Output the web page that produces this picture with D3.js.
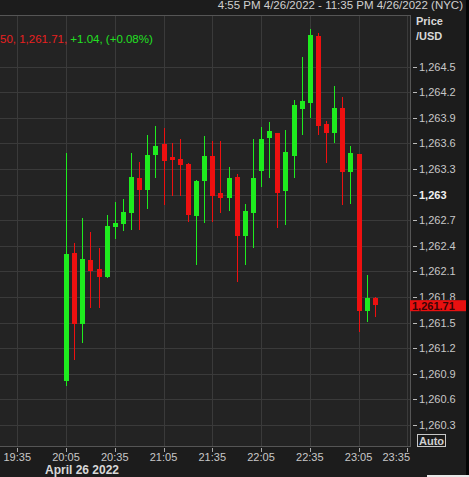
<!DOCTYPE html>
<html>
<head>
<meta charset="utf-8">
<script src="https://cdn.jsdelivr.net/npm/d3@7"></script>
<style>
  html, body { margin: 0; padding: 0; background: #1c1c1c; overflow: hidden; }
  svg { display: block; font-family: "Liberation Sans", Arial, sans-serif; }
</style>
</head>
<body>
<div class="chart"></div>
<script>
'use strict'

// 5 minute candles, April 26 2022 (NYC)
const times = ['20:05', '20:10', '20:15', '20:20', '20:25', '20:30', '20:35', '20:40', '20:45', '20:50',
  '20:55', '21:00', '21:05', '21:10', '21:15', '21:20', '21:25', '21:30', '21:35', '21:40',
  '21:45', '21:50', '21:55', '22:00', '22:05', '22:10', '22:15', '22:20', '22:25', '22:30',
  '22:35', '22:40', '22:45', '22:50', '22:55', '23:00', '23:05', '23:10', '23:15']
const opens = [1260.81, 1262.32, 1261.48, 1262.23, 1262.13, 1262.04, 1262.62, 1262.66, 1262.78, 1263.20,
  1263.06, 1263.46, 1263.59, 1263.44, 1263.42, 1263.36, 1262.75, 1263.16, 1263.45, 1263.02,
  1262.96, 1263.21, 1262.51, 1262.78, 1263.28, 1263.66, 1263.72, 1263.04, 1263.45, 1264.00,
  1264.08, 1264.86, 1263.83, 1263.72, 1264.02, 1263.26, 1263.48, 1261.64, 1261.79]
const highs = [1263.49, 1262.43, 1262.73, 1262.56, 1262.37, 1262.76, 1262.91, 1262.95, 1263.49, 1263.38,
  1263.70, 1263.81, 1263.78, 1263.61, 1263.65, 1263.37, 1263.17, 1263.69, 1263.63, 1263.63,
  1263.32, 1263.24, 1262.89, 1263.65, 1263.79, 1263.85, 1263.72, 1263.76, 1264.11, 1264.61,
  1264.94, 1264.90, 1263.86, 1264.27, 1264.15, 1263.57, 1263.48, 1262.06, 1261.80]
const lows = [1260.76, 1261.06, 1261.26, 1261.67, 1261.67, 1262.02, 1262.48, 1262.57, 1262.59, 1262.58,
  1262.83, 1263.19, 1262.88, 1262.98, 1262.98, 1262.68, 1262.18, 1262.67, 1262.68, 1262.79,
  1262.81, 1261.98, 1262.18, 1262.38, 1263.09, 1263.19, 1262.61, 1262.65, 1263.19, 1263.70,
  1263.90, 1263.70, 1263.37, 1263.60, 1262.88, 1262.89, 1261.39, 1261.51, 1261.57]
const closes = [1262.30, 1261.48, 1262.24, 1262.11, 1262.04, 1262.63, 1262.67, 1262.80, 1263.21, 1263.06,
  1263.47, 1263.57, 1263.39, 1263.41, 1263.35, 1262.76, 1263.16, 1263.45, 1262.99, 1262.96,
  1263.20, 1262.51, 1262.81, 1263.19, 1263.65, 1263.75, 1263.02, 1263.50, 1264.05, 1264.10,
  1264.87, 1263.81, 1263.72, 1264.02, 1263.27, 1263.49, 1261.64, 1261.79, 1261.71]

const xTickLabels = ['19:35', '20:05', '20:35', '21:05', '21:35', '22:05', '22:35', '23:05', '23:35']
const yTickValues = [1260.3, 1260.6, 1260.9, 1261.2, 1261.5, 1261.8, 1262.1, 1262.4, 1262.7,
  1263, 1263.3, 1263.6, 1263.9, 1264.2, 1264.5]
const lastPrice = 1261.71

const width = 469
const height = 477
const plot = { left: 0, top: 15, right: 410, bottom: 446 }

const up = '#1eec1e'
const down = '#ee1010'

const parseTime = d3.timeParse('%Y-%m-%d %H:%M')
function toDate(t) { return parseTime('2022-04-26 ' + t) }

const candles = times.map(function(t, i) {
  return { date: toDate(t), open: opens[i], high: highs[i], low: lows[i], close: closes[i] }
})

const x = d3.scaleTime()
    .domain([toDate('20:05'), toDate('23:35')])
    .range([66, 407.3])

const y = d3.scaleLinear()
    .domain([1260.3, 1264.5])
    .range([425, 66.7])

const svg = d3.select('.chart').append('svg')
    .attr('width', width)
    .attr('height', height)

// backgrounds
svg.append('rect')
    .attr('width', width).attr('height', height)
    .attr('fill', '#1c1c1c')
svg.append('rect')
    .attr('x', plot.left).attr('y', plot.top)
    .attr('width', plot.right - plot.left).attr('height', plot.bottom - plot.top)
    .attr('fill', '#232323')

svg.append('clipPath').attr('id', 'plot-clip')
  .append('rect')
    .attr('x', plot.left).attr('y', plot.top)
    .attr('width', plot.right - plot.left).attr('height', plot.bottom - plot.top)

const grid = svg.append('g')
    .attr('shape-rendering', 'crispEdges')
    .attr('stroke', '#3a3a3a')

grid.selectAll('.hgrid')
    .data(yTickValues)
  .enter().append('line')
    .attr('class', 'hgrid')
    .attr('x1', plot.left).attr('x2', plot.right)
    .attr('y1', d => Math.round(y(d)) + 0.5)
    .attr('y2', d => Math.round(y(d)) + 0.5)

grid.selectAll('.vgrid')
    .data(xTickLabels)
  .enter().append('line')
    .attr('class', 'vgrid')
    .attr('x1', d => Math.round(x(toDate(d))) + 0.5)
    .attr('x2', d => Math.round(x(toDate(d))) + 0.5)
    .attr('y1', plot.top).attr('y2', plot.bottom)

// frame
svg.append('path')
    .attr('d', 'M' + plot.left + ',' + (plot.top + 0.5) + 'H' + (plot.right + 0.5)
        + 'V' + (plot.bottom + 0.5) + 'H' + plot.left)
    .attr('fill', 'none')
    .attr('stroke', '#555')
    .attr('shape-rendering', 'crispEdges')

// candles
const candle = svg.append('g')
    .attr('clip-path', 'url(#plot-clip)')
    .attr('shape-rendering', 'crispEdges')
  .selectAll('.candle')
    .data(candles)
  .enter().append('g')
    .attr('class', 'candle')
    .attr('fill', d => d.close >= d.open ? up : down)
    .attr('stroke', d => d.close >= d.open ? up : down)

candle.append('line')
    .attr('x1', d => Math.round(x(d.date)) + 0.5)
    .attr('x2', d => Math.round(x(d.date)) + 0.5)
    .attr('y1', d => y(d.high))
    .attr('y2', d => y(d.low))
    .attr('stroke-width', 1)

candle.append('rect')
    .attr('x', d => Math.round(x(d.date)) - 2)
    .attr('width', 5)
    .attr('y', d => y(Math.max(d.open, d.close)))
    .attr('height', d => Math.max(2, Math.abs(y(d.open) - y(d.close))))
    .attr('stroke', 'none')

// y axis
const yAxis = svg.append('g')
    .attr('font-size', 11)
    .attr('fill', '#c8c8c8')

yAxis.selectAll('.ytick')
    .data(yTickValues)
  .enter().append('line')
    .attr('class', 'ytick')
    .attr('x1', 413).attr('x2', 417)
    .attr('y1', d => Math.round(y(d)) + 0.5)
    .attr('y2', d => Math.round(y(d)) + 0.5)
    .attr('stroke', '#bbb')
    .attr('shape-rendering', 'crispEdges')

// the label hidden under the last price marker is clipped like in the original
svg.append('clipPath').attr('id', 'label-clip')
  .append('rect')
    .attr('x', 410).attr('y', 0)
    .attr('width', 59).attr('height', y(lastPrice) - 4.5)

yAxis.selectAll('.ylabel')
    .data(yTickValues)
  .enter().append('text')
    .attr('class', 'ylabel')
    .attr('x', 419)
    .attr('y', d => y(d) + 4)
    .attr('clip-path', d => Math.abs(y(d) - y(lastPrice)) < 11 ? 'url(#label-clip)' : null)
    .attr('font-weight', d => d === 1263 ? 'bold' : 'normal')
    .attr('fill', d => d === 1263 ? '#f0f0f0' : '#c8c8c8')
    .text(d => d3.format(',')(d))

svg.append('text')
    .attr('x', 416).attr('y', 25)
    .attr('font-size', 11).attr('font-weight', 'bold')
    .attr('fill', '#d8d8d8')
    .text('Price')
svg.append('text')
    .attr('x', 416).attr('y', 40)
    .attr('font-size', 11).attr('font-weight', 'bold')
    .attr('fill', '#d8d8d8')
    .text('/USD')

// last price marker
svg.append('rect')
    .attr('x', 410).attr('y', y(lastPrice) - 4.5)
    .attr('width', 57).attr('height', 11)
    .attr('fill', '#e81010')
svg.append('text')
    .attr('x', 412).attr('y', y(lastPrice) + 5)
    .attr('font-size', 11).attr('font-weight', 'bold')
    .attr('fill', '#3a0606')
    .text(d3.format(',.2f')(lastPrice))

// auto button
svg.append('rect')
    .attr('x', 417.5).attr('y', 434.5)
    .attr('width', 28).attr('height', 12)
    .attr('fill', 'none')
    .attr('stroke', '#c8c8c8')
svg.append('text')
    .attr('x', 419).attr('y', 444.5)
    .attr('font-size', 11).attr('font-weight', 'bold')
    .attr('fill', '#d0d0d0')
    .text('Auto')

// x axis
const xAxis = svg.append('g')
    .attr('font-size', 11)
    .attr('fill', '#c8c8c8')

xAxis.selectAll('.xtick')
    .data(xTickLabels)
  .enter().append('line')
    .attr('class', 'xtick')
    .attr('x1', d => Math.round(x(toDate(d))) + 0.5)
    .attr('x2', d => Math.round(x(toDate(d))) + 0.5)
    .attr('y1', 448).attr('y2', 452)
    .attr('stroke', '#aaa')
    .attr('shape-rendering', 'crispEdges')

xAxis.selectAll('.xlabel')
    .data(xTickLabels)
  .enter().append('text')
    .attr('class', 'xlabel')
    .attr('x', (d, i) => i === xTickLabels.length - 1 ? plot.right : x(toDate(d)))
    .attr('y', 461)
    .attr('text-anchor', (d, i) => i === xTickLabels.length - 1 ? 'end' : 'middle')
    .text(d => d)

svg.append('text')
    .attr('x', 45).attr('y', 474)
    .attr('font-size', 12).attr('font-weight', 'bold')
    .attr('fill', '#d8d8d8')
    .text('April 26 2022')

// header
svg.append('text')
    .attr('x', 463).attr('y', 9)
    .attr('text-anchor', 'end')
    .attr('font-size', 11.5)
    .attr('fill', '#d0d0d0')
    .text('4:55 PM 4/26/2022 - 11:35 PM 4/26/2022 (NYC)')

const legend = svg.append('text')
    .attr('x', 0).attr('y', 43)
    .attr('font-size', 11.5)
legend.append('tspan').attr('fill', '#e82020').text('50, 1,261.71, ')
legend.append('tspan').attr('fill', '#22e022').text('+1.04, (+0.08%)')

// right edge strip
svg.append('rect')
    .attr('x', 466).attr('y', 0)
    .attr('width', 3).attr('height', height)
    .attr('fill', '#050505')
svg.append('rect')
    .attr('x', 427).attr('y', 475)
    .attr('width', 42).attr('height', 2)
    .attr('fill', '#e8e8e8')
</script>
</body>
</html>
